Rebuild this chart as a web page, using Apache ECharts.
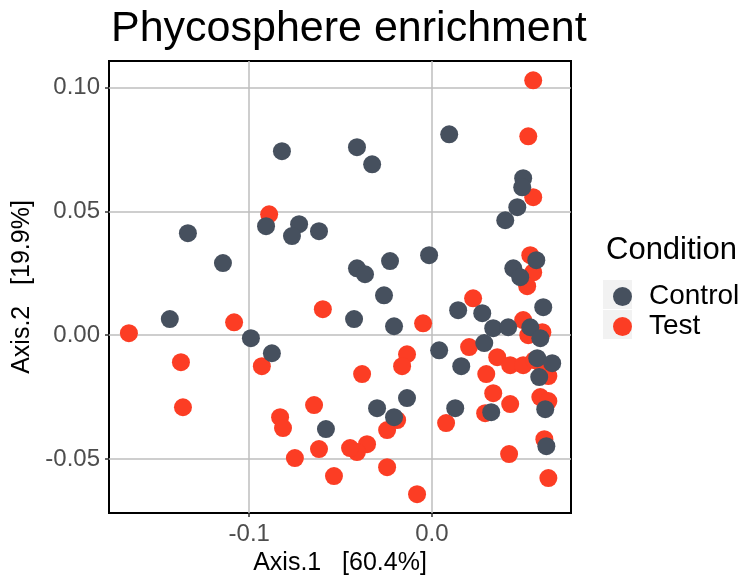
<!DOCTYPE html>
<html>
<head>
<meta charset="utf-8">
<script src="https://cdn.jsdelivr.net/npm/echarts@6/dist/echarts.min.js"></script>
<style>html,body{margin:0;padding:0;background:#fff}#c{width:742px;height:577px}</style>
</head>
<body>
<div id="c"></div>
<script>
// ---- data (Axis.1, Axis.2) ----
const controlPoints = [
  [0.0095, 0.0811], [-0.0410, 0.0759], [-0.0327, 0.0690], [0.0500, 0.0634], [0.0495, 0.0597],
  [0.0468, 0.0517], [0.0402, 0.0464], [-0.0821, 0.0743], [-0.1336, 0.0412], [-0.1144, 0.0291],
  [-0.0908, 0.0440], [-0.0727, 0.0448], [-0.0766, 0.0400], [-0.0618, 0.0420], [-0.1435, 0.0065],
  [-0.0991, -0.0012], [-0.0876, -0.0073], [-0.0015, 0.0323], [-0.0229, 0.0299], [-0.0410, 0.0270],
  [-0.0366, 0.0246], [-0.0262, 0.0161], [-0.0426, 0.0065], [-0.0207, 0.0036], [0.0144, 0.0101],
  [0.0276, 0.0089], [0.0336, 0.0028], [0.0418, 0.0032], [0.0040, -0.0061], [0.0287, -0.0032],
  [0.0446, 0.0270], [0.0484, 0.0234], [0.0572, 0.0303], [0.0610, 0.0113], [0.0539, 0.0032],
  [0.0594, -0.0012], [0.0577, -0.0093], [0.0659, -0.0113], [0.0588, -0.0169], [0.0161, -0.0125],
  [0.0621, -0.0299], [0.0128, -0.0295], [0.0325, -0.0311], [0.0627, -0.0448], [-0.0300, -0.0295],
  [-0.0136, -0.0254], [-0.0207, -0.0331], [-0.0580, -0.0379]
];
const testPoints = [
  [0.0555, 0.1029], [0.0528, 0.0803], [0.0555, 0.0557], [-0.0891, 0.0488], [-0.1659, 0.0008],
  [-0.1083, 0.0052], [-0.0597, 0.0105], [-0.0931, -0.0125], [-0.1374, -0.0109], [-0.1363, -0.0291],
  [-0.0645, -0.0282], [-0.0831, -0.0331], [-0.0815, -0.0375], [-0.0618, -0.0460], [-0.0750, -0.0496],
  [-0.0536, -0.0569], [-0.0136, -0.0077], [-0.0163, -0.0125], [-0.0382, -0.0157], [-0.0048, 0.0048],
  [-0.0190, -0.0343], [-0.0245, -0.0383], [-0.0355, -0.0440], [-0.0410, -0.0472], [-0.0448, -0.0456],
  [-0.0245, -0.0533], [-0.0081, -0.0642], [0.0078, -0.0355], [0.0226, 0.0149], [0.0204, -0.0048],
  [0.0358, -0.0089], [0.0429, -0.0121], [0.0500, -0.0121], [0.0561, -0.0101], [0.0610, -0.0141],
  [0.0638, -0.0165], [0.0298, -0.0157], [0.0336, -0.0234], [0.0594, -0.0250], [0.0638, -0.0266],
  [0.0429, -0.0278], [0.0292, -0.0315], [0.0616, -0.0420], [0.0423, -0.0480], [0.0638, -0.0577],
  [0.0539, 0.0323], [0.0555, 0.0254], [0.0522, 0.0198], [0.0500, 0.0061], [0.0528, 0.0000],
  [0.0605, 0.0012]
];
const seriesNames = ['Control', 'Test'];
const xTicks = [-0.1, 0.0];
const xTickLabels = ['-0.1', '0.0'];
const yTicks = [-0.05, 0.0, 0.05, 0.10];
const yTickLabels = ['-0.05', '0.00', '0.05', '0.10'];
const xRange = [-0.1768, 0.0762];
const yRange = [-0.0718, 0.1107];

const FONT = '"Liberation Sans", Arial, Helvetica, sans-serif';
const colors = {Control: '#46505E', Test: '#FC3D24'};

function labelFor(ticks, labels) {
  return function (v) {
    for (let i = 0; i < ticks.length; i++) if (Math.abs(ticks[i] - v) < 1e-9) return labels[i];
    return '';
  };
}

const chart = echarts.init(document.getElementById('c'), null, {renderer: 'canvas'});
chart.setOption({
  animation: false,
  backgroundColor: '#ffffff',
  title: [
    {text: 'Phycosphere enrichment', left: 106, top: 3,
     textStyle: {fontFamily: FONT, fontSize: 43, fontWeight: 'normal', color: '#000'}},
    {text: 'Condition', left: 601, top: 230,
     textStyle: {fontFamily: FONT, fontSize: 31, fontWeight: 'normal', color: '#000'}}
  ],
  graphic: [
    {type: 'rect', left: 603, top: 280, z: 0, shape: {width: 29, height: 29}, style: {fill: '#F2F2F2'}},
    {type: 'rect', left: 603, top: 310, z: 0, shape: {width: 29, height: 29}, style: {fill: '#F2F2F2'}}
  ],
  legend: {
    data: seriesNames,
    orient: 'vertical',
    left: 608, top: 277,
    z: 10,
    icon: 'circle',
    itemWidth: 19, itemHeight: 19,
    itemGap: 1,
    textStyle: {fontFamily: FONT, fontSize: 28, color: '#000', padding: [0, 0, 0, 12], lineHeight: 29}
  },
  grid: {left: 109, right: 171, top: 61, bottom: 64, show: true, borderColor: '#000', borderWidth: 2,
         containLabel: false, outerBoundsMode: 'none'},
  xAxis: {
    type: 'value', min: xRange[0], max: xRange[1],
    name: 'Axis.1   [60.4%]', nameLocation: 'middle', nameGap: 36,
    nameTextStyle: {fontFamily: FONT, fontSize: 25, color: '#000'},
    axisLine: {show: false, onZero: false},
    axisTick: {show: true, length: 4, lineStyle: {color: '#333', width: 1.5}, customValues: xTicks},
    axisLabel: {customValues: xTicks, formatter: labelFor(xTicks, xTickLabels), margin: 9,
      fontFamily: FONT, fontSize: 24, color: '#4d4d4d'},
    splitLine: {show: true, lineStyle: {color: '#BEBEBE', width: 1.5}}
  },
  yAxis: {
    type: 'value', min: yRange[0], max: yRange[1],
    name: 'Axis.2   [19.9%]', nameLocation: 'middle', nameGap: 67,
    nameTextStyle: {fontFamily: FONT, fontSize: 25, color: '#000'},
    axisLine: {show: false, onZero: false},
    axisTick: {show: true, length: 4, lineStyle: {color: '#333', width: 1.5}, customValues: yTicks},
    axisLabel: {customValues: yTicks, formatter: labelFor(yTicks, yTickLabels), margin: 9,
      fontFamily: FONT, fontSize: 24, color: '#4d4d4d'},
    splitLine: {show: true, lineStyle: {color: '#BEBEBE', width: 1.5}}
  },
  series: [
    {name: 'Control', type: 'scatter', data: controlPoints, symbol: 'circle', symbolSize: 18, z: 3,
     itemStyle: {color: colors.Control, opacity: 1}},
    {name: 'Test', type: 'scatter', data: testPoints, symbol: 'circle', symbolSize: 18, z: 2,
     itemStyle: {color: colors.Test, opacity: 1}}
  ]
});
</script>
</body>
</html>
